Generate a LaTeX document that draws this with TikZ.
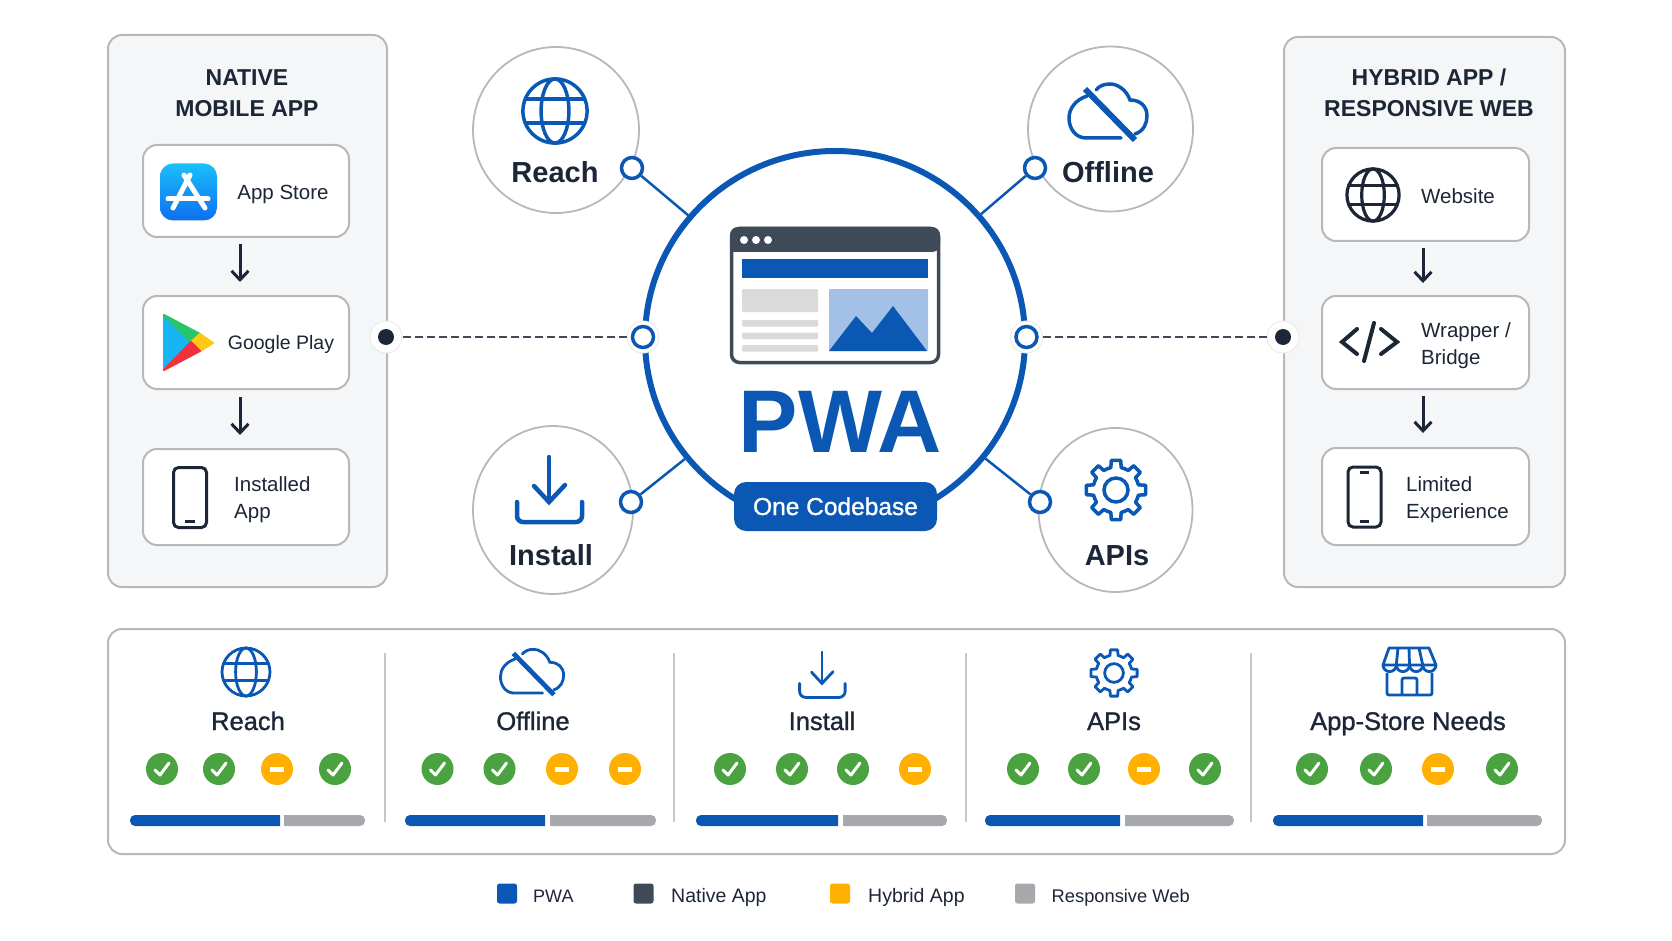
\documentclass[tikz,border=0pt]{standalone}
\usepackage{fontspec}
\setmainfont{Liberation Sans}
\newfontfamily\medfont[FakeBold=1.1]{Liberation Sans}
\usetikzlibrary{arrows.meta,shapes.geometric}
\definecolor{pwablue}{HTML}{0B58B4}
\definecolor{inkdark}{HTML}{1C2636}
\definecolor{barslate}{HTML}{3F4A58}
\definecolor{edgegray}{HTML}{B6B8BA}
\definecolor{panelfill}{HTML}{F5F6F7}
\definecolor{okgreen}{HTML}{4AA340}
\definecolor{warnamber}{HTML}{FFB000}
\definecolor{bargray}{HTML}{A7A9AC}
\definecolor{skyblue}{HTML}{A3C1E6}
\definecolor{blockgray}{HTML}{DADADA}
\definecolor{storetop}{HTML}{1ABFFB}
\definecolor{storebottom}{HTML}{0E6FEE}
\definecolor{playblue}{HTML}{18B5F5}
\definecolor{playgreen}{HTML}{27C46A}
\definecolor{playyellow}{HTML}{FFC812}
\definecolor{playred}{HTML}{F0323C}
\tikzset{
  panelbox/.style={rectangle,draw=edgegray,fill=panelfill,line width=2pt,rounded corners=14pt,inner sep=0pt},
  itembox/.style={rectangle,draw=edgegray,fill=white,line width=2pt,rounded corners=14pt,inner sep=0pt},
  satnode/.style={circle,draw=edgegray,fill=white,line width=1.8pt,inner sep=0pt},
  satoval/.style={ellipse,draw=edgegray,fill=white,line width=1.8pt,inner sep=0pt},
  ringnode/.style={circle,draw=pwablue,fill=white,line width=3.5pt,minimum size=21pt,inner sep=0pt},
  halonode/.style={circle,draw=black!8,fill=white,line width=1pt,minimum size=32pt,inner sep=0pt},
  itemtext/.style={inner sep=0pt,text=inkdark,font=\fontsize{20.5}{27.5}\selectfont},
  titletext/.style={inner sep=0pt,text=inkdark,align=center,font=\fontsize{23}{31}\selectfont\bfseries},
  sattext/.style={inner sep=0pt,anchor=base,text=inkdark,font=\fontsize{29}{34}\selectfont\bfseries},
  rowtext/.style={inner sep=0pt,anchor=base,text=inkdark,font=\fontsize{25.5}{30}\medfont},
  keytext/.style={inner sep=0pt,anchor=base west,text=inkdark,font=\fontsize{19.5}{24}\selectfont},
  keybox/.style={rectangle,rounded corners=2.5pt,minimum size=20pt,inner sep=0pt},
  downarrow/.style={draw=inkdark,line width=3pt,-{Straight Barb[length=9pt,width=17pt]}},
  spoke/.style={draw=pwablue,line width=2.5pt},
  dashlink/.style={draw=barslate,line width=2pt,dash pattern=on 8pt off 4pt},
  okdot/.style={circle,fill=okgreen,minimum size=32pt,inner sep=0pt,path picture={
    \draw[white,line width=3pt,line cap=round,line join=round]
      ([shift={(-7,1)}]path picture bounding box.center) --
      ([shift={(-2,6)}]path picture bounding box.center) --
      ([shift={(7,-6)}]path picture bounding box.center);}},
  warndot/.style={circle,fill=warnamber,minimum size=32pt,inner sep=0pt,path picture={
    \fill[white] ([shift={(-7,-2.5)}]path picture bounding box.center) rectangle
      ([shift={(7,2.5)}]path picture bounding box.center);}},
  globeicon/.pic={
    \draw[pic actions] (0,0) circle[radius=30];
    \draw[pic actions] (0,0) ellipse[x radius=13,y radius=30];
    \draw[pic actions] (-28,-11) -- (28,-11);
    \draw[pic actions] (-28,11) -- (28,11);},
  cloudicon/.pic={
    \draw[pic actions,line cap=round] (-21,-16) .. controls (-33,-12) and (-39,-3) .. (-39,6)
      .. controls (-39,17) and (-32,26) .. (-22,26) -- (13,26);
    \draw[pic actions,line cap=round] (27,22) .. controls (36,19) and (39,11) .. (39,4)
      .. controls (39,-6) and (32,-12) .. (22,-12) .. controls (18,-23) and (9,-28) .. (2,-28)
      .. controls (-4,-28) and (-9,-26) .. (-12,-22);
    \draw[pic actions,line width=1.3*\pgflinewidth] (-23,-23) -- (27,28);},
  installicon/.pic={
    \draw[pic actions,line cap=round] (0,-33) -- (0,12);
    \draw[pic actions,line cap=round,line join=miter] (-15,-4) -- (0,12) -- (16,-5);
    \draw[pic actions,line cap=round,rounded corners=6pt] (-32,12) -- (-32,32) -- (33,32) -- (33,12);},
  gearicon/.pic={
    \draw[pic actions] (0,0) circle[radius=12];
    \foreach \a in {0,45,...,315}{
      \draw[pic actions,line join=round,line cap=round]
        (\a-22.5:23) -- (\a-13:23) -- (\a-9:30) -- (\a+9:30) -- (\a+13:23) -- (\a+22.5:23);}},
  phoneicon/.pic={
    \draw[pic actions,rounded corners=5pt] (-16.5,-30) rectangle (16.5,30);
    \draw[pic actions] (-5,24) -- (5,24);},
  slimphoneicon/.pic={
    \draw[pic actions,rounded corners=5pt] (-16.5,-30) rectangle (16.5,30);
    \draw[pic actions] (-4.5,-25) -- (4.5,-25);
    \draw[pic actions] (-4.5,24) -- (4.5,24);},
  storeicon/.pic={
    \draw[pic actions,line join=round] (-21,-24) -- (19,-24) -- (26,-7) -- (-27,-7) -- cycle;
    \foreach \x in {-27,-13.75,-0.5,12.75}{
      \draw[pic actions] (\x,-7) arc[start angle=180,end angle=0,radius=6.625];}
    \draw[pic actions] (-12,-24) -- (-13.75,-7);
    \draw[pic actions] (-1,-24) -- (-0.5,-7);
    \draw[pic actions] (9,-24) -- (12.75,-7);
    \draw[pic actions,rounded corners=2pt] (-23,1) -- (-23,23) -- (22,23) -- (22,1);
    \draw[pic actions,rounded corners=2pt] (-8,23) -- (-8,6) -- (7,6) -- (7,23);}
}

\begin{document}
\begin{tikzpicture}[x=1pt,y=-1pt]
\useasboundingbox (0,0) rectangle (1672,941);

% side panels
\node[panelbox,minimum width=279pt,minimum height=552pt] (nativepanel) at (247.5,311) {};
\node[panelbox,minimum width=281pt,minimum height=550pt] (hybridpanel) at (1424.5,312) {};
\node[titletext] (nativetitle) at (247,93) {NATIVE\\MOBILE APP};
\node[titletext] (hybridtitle) at (1429,92.5) {HYBRID APP /\\RESPONSIVE WEB};

\node[itembox,minimum width=206pt,minimum height=92pt] (boxstore) at (246,191) {};
\node[itembox,minimum width=206pt,minimum height=93pt] (boxplay) at (246,342.5) {};
\node[itembox,minimum width=206pt,minimum height=96pt] (boxinst) at (246,497) {};
\node[itembox,minimum width=207pt,minimum height=93pt] (boxweb) at (1425.5,194.5) {};
\node[itembox,minimum width=207pt,minimum height=93pt] (boxwrap) at (1425.5,342.5) {};
\node[itembox,minimum width=207pt,minimum height=97pt] (boxlimit) at (1425.5,496.5) {};

\draw[downarrow,shorten <=6pt,shorten >=13pt] ([xshift=-6pt]boxstore.south) -- ([xshift=-6pt]boxplay.north);
\draw[downarrow,shorten <=7pt,shorten >=13pt] ([xshift=-6pt]boxplay.south) -- ([xshift=-6pt]boxinst.north);
\draw[downarrow,shorten <=6pt,shorten >=12pt] ([xshift=-2.5pt]boxweb.south) -- ([xshift=-2.5pt]boxwrap.north);
\draw[downarrow,shorten <=6pt,shorten >=14pt] ([xshift=-2.5pt]boxwrap.south) -- ([xshift=-2.5pt]boxlimit.north);

% left panel contents
\node[rectangle,rounded corners=13pt,top color=storetop,bottom color=storebottom,minimum size=57pt,inner sep=0pt] (storelogo) at (188.5,192) {};
\draw[white,line width=5pt,line cap=round] (190,175) -- (173,208);
\draw[white,line width=5pt,line cap=round] (184,175) -- (205,208);
\draw[white,line width=5pt,line cap=round] (168,199) -- (208,199);
\node[itemtext,anchor=base] (storetext) at (283,200) {App Store};

\filldraw[playblue,line width=2pt,line join=round] (164,315) -- (191,342) -- (164,370) -- cycle;
\filldraw[playgreen,line width=2pt,line join=round] (164,315) -- (200,334) -- (191,342) -- cycle;
\filldraw[playyellow,line width=2pt,line join=round] (200,334) -- (213,343) -- (200,351) -- (191,342) -- cycle;
\filldraw[playred,line width=2pt,line join=round] (164,370) -- (191,342) -- (200,351) -- cycle;
\node[itemtext,anchor=base,font=\fontsize{19.5}{24}\selectfont] (playtext) at (281,349) {Google Play};

\pic[draw=inkdark,line width=3pt] at (190,497.5) {phoneicon};
\node[itemtext,anchor=west,align=left] (insttext) at (234,499.5) {Installed\\App};

% right panel contents
\pic[draw=inkdark,line width=3.2pt,scale=.87] at (1373,195) {globeicon};
\node[itemtext,anchor=base] (webtext) at (1458,204) {Website};
\draw[inkdark,line width=4pt,line cap=round] (1357,329) -- (1342,342) -- (1357,354);
\draw[inkdark,line width=4pt,line cap=round] (1374,323) -- (1364,361);
\draw[inkdark,line width=4pt,line cap=round] (1381,329) -- (1397,342) -- (1381,354);
\node[itemtext,anchor=west,align=left] (wraptext) at (1421,345.5) {Wrapper /\\Bridge};
\pic[draw=inkdark,line width=3pt] at (1364.5,497) {slimphoneicon};
\node[itemtext,anchor=west,align=left] (limittext) at (1406,499.5) {Limited\\Experience};

% hub
\node[ellipse,draw=pwablue,fill=white,line width=6pt,minimum width=380pt,minimum height=376pt,inner sep=0pt] (hub) at (835,339) {};

\node[rectangle,draw=barslate,fill=white,line width=3.5pt,rounded corners=8pt,minimum width=207pt,minimum height=134pt,inner sep=0pt] (window) at (835,295.5) {};
\fill[barslate,rounded corners=8pt] (730,252) -- (730,227) -- (940,227) -- (940,252) [sharp corners] -- cycle;
\foreach \x in {744,756,768}{
  \fill[white] (\x,240) circle[radius=4];}
\fill[pwablue] (742,259) rectangle (928,278);
\fill[blockgray,rounded corners=1pt] (742,289) rectangle (818,312);
\foreach \y in {320,332.5,345}{
  \fill[blockgray,rounded corners=1pt] (742,\y) rectangle (818,\y+6.5);}
\fill[skyblue,rounded corners=1pt] (829,289) rectangle (928,351);
\fill[pwablue] (829,351) -- (856,316) -- (872,333) -- (893,306) -- (927,351) -- cycle;

\node[inner sep=0pt,anchor=base,text=pwablue,font=\fontsize{89}{90}\selectfont\bfseries] (pwatext) at (840,452) {PWA};
\node[rectangle,fill=pwablue,rounded corners=12pt,minimum width=203pt,minimum height=49pt,inner sep=0pt] (codebase) at (835.5,506.5) {};
\node[inner sep=0pt,anchor=base,text=white,font=\fontsize{24.5}{30}\medfont] (codetext) at (835.5,515) {One Codebase};

% satellites
\node[satnode,minimum size=166pt] (satreach) at (556,130) {};
\node[satnode,minimum size=165pt] (satoffline) at (1110.5,129) {};
\node[satoval,minimum width=160pt,minimum height=168pt] (satinstall) at (553,510) {};
\node[satoval,minimum width=154pt,minimum height=164pt] (satapis) at (1115.5,510) {};

\pic[draw=pwablue,line width=3.5pt,scale=1.07] at (555,111) {globeicon};
\pic[draw=pwablue,line width=3.5pt] at (1108,112) {cloudicon};
\pic[draw=pwablue,line width=4.5pt] at (549,490) {installicon};
\pic[draw=pwablue,line width=3.5pt] at (1116,490) {gearicon};

\node[sattext] (reachtext) at (555,183) {Reach};
\node[sattext] (offlinetext) at (1108,183) {Offline};
\node[sattext] (installtext) at (551,565) {Install};
\node[sattext] (apistext) at (1117,565) {APIs};

\node[ringnode] (ringreach) at (632,168) {};
\node[ringnode] (ringoffline) at (1035,168) {};
\node[ringnode] (ringinstall) at (631,502) {};
\node[ringnode] (ringapis) at (1040,502) {};
\draw[spoke] (ringreach) -- (hub);
\draw[spoke] (ringoffline) -- (hub);
\draw[spoke] (ringinstall) -- (hub);
\draw[spoke] (ringapis) -- (hub);

% side links
\node[halonode] (haloleft) at (386,337) {};
\node[circle,fill=inkdark,minimum size=16pt,inner sep=0pt] (dotleft) at (386,337) {};
\node[halonode] (halohubleft) at (643,337) {};
\node[ringnode] (ringleft) at (643,337) {};
\node[halonode] (haloright) at (1283,337) {};
\node[circle,fill=inkdark,minimum size=16pt,inner sep=0pt] (dotright) at (1283,337) {};
\node[halonode] (halohubright) at (1026.5,337) {};
\node[ringnode] (ringright) at (1026.5,337) {};
\draw[dashlink] (haloleft) -- (halohubleft);
\draw[dashlink] (halohubright) -- (haloright);

% comparison strip
\node[itembox,minimum width=1457pt,minimum height=225pt] (strip) at (836.5,741.5) {};
\foreach \x in {385,674,966,1251}{
  \draw[edgegray!80,line width=1.8pt] (\x,653) -- (\x,822);}

\pic[draw=pwablue,line width=2.8pt,scale=.8] at (246,672) {globeicon};
\pic[draw=pwablue,line width=2.8pt,scale=.81] at (532,672) {cloudicon};
\pic[draw=pwablue,line width=2.8pt,scale=.7] at (822,675) {installicon};
\pic[draw=pwablue,line width=2.8pt,scale=.78] at (1114,673) {gearicon};
\pic[draw=pwablue,line width=2.8pt] at (1410,672) {storeicon};

\node[rowtext] (rowreach) at (248,730) {Reach};
\node[rowtext] (rowoffline) at (533,730) {Offline};
\node[rowtext] (rowinstall) at (822,730) {Install};
\node[rowtext] (rowapis) at (1114,730) {APIs};
\node[rowtext] (rowstore) at (1408,730) {App-Store Needs};

\foreach \n/\x/\k in {a1/162/okdot,a2/219/okdot,a3/277/warndot,a4/335/okdot,
  b1/437.5/okdot,b2/499.5/okdot,b3/562/warndot,b4/625/warndot,
  c1/730/okdot,c2/792/okdot,c3/853/okdot,c4/915/warndot,
  d1/1023/okdot,d2/1084/okdot,d3/1144/warndot,d4/1205/okdot,
  e1/1312/okdot,e2/1376/okdot,e3/1438/warndot,e4/1502/okdot}{
  \node[\k] (mark\n) at (\x,769) {};}

\foreach \xa/\xb/\xc/\xd in {130/280/284/365,405/545/550/656,696/838/843/947,985/1120/1125/1234,1273/1423/1427/1542}{
  \fill[pwablue] (\xb,815) [rounded corners=5pt] -- (\xa,815) -- (\xa,826) [sharp corners] -- (\xb,826) -- cycle;
  \fill[bargray] (\xc,815) [rounded corners=5pt] -- (\xd,815) -- (\xd,826) [sharp corners] -- (\xc,826) -- cycle;}

% legend
\node[keybox,fill=pwablue] (keypwa) at (507,893.5) {};
\node[keybox,fill=barslate] (keynative) at (643.5,893.5) {};
\node[keybox,fill=warnamber] (keyhybrid) at (840,893.5) {};
\node[keybox,fill=bargray] (keyweb) at (1025,893.5) {};
\node[keytext,font=\fontsize{18}{24}\selectfont] (textpwa) at (533,902) {PWA};
\node[keytext] (textnative) at (671,902) {Native App};
\node[keytext] (texthybrid) at (868,902) {Hybrid App};
\node[keytext,font=\fontsize{18.3}{24}\selectfont] (textweb) at (1051.5,902) {Responsive Web};
\end{tikzpicture}
\end{document}
